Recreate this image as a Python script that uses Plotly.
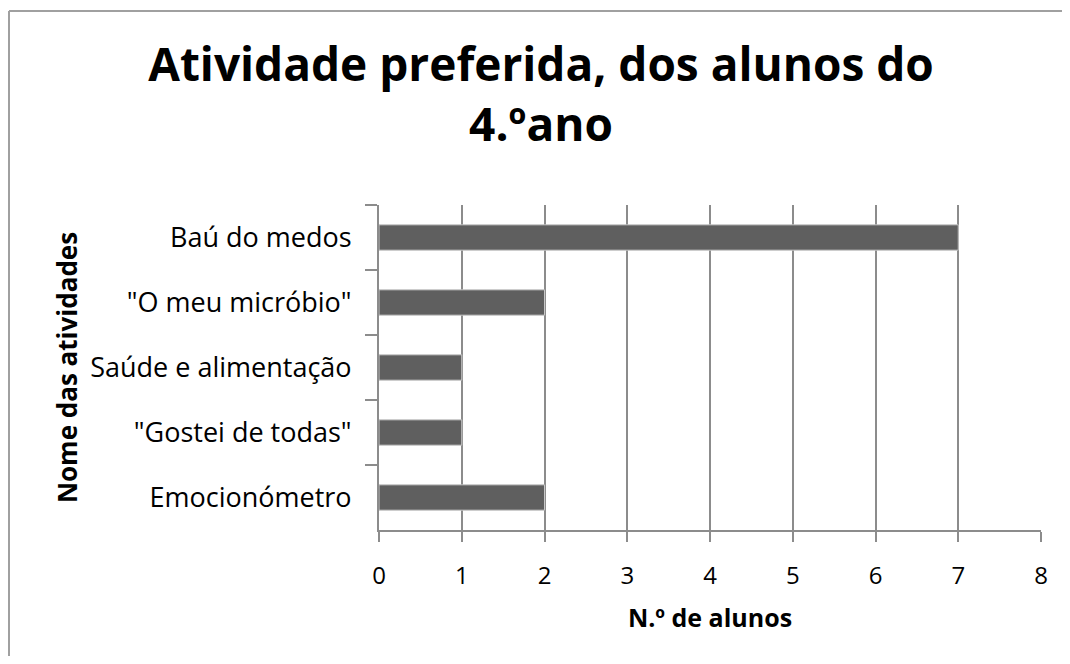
import plotly.graph_objects as go

categories = ["Baú do medos", "\"O meu micróbio\"", "Saúde e alimentação", "\"Gostei de todas\"", "Emocionómetro"]
values = [7, 2, 1, 1, 2]
x_ticks = [0, 1, 2, 3, 4, 5, 6, 7, 8]

FONT = "Open Sans"
OFF = 8  # page body margin offset
W, H = 1070 - 2 * OFF, 664 - 2 * OFF
L, T = 379 - OFF, 205 - OFF
R = W - (1041 - OFF)
B = H - (530 - OFF)
PW, PH = W - L - R, H - T - B

bx0 = (1 - L) / PW
by1 = (T + PH - 3) / PH

fig = go.Figure(go.Bar(
    y=categories, x=values, orientation="h",
    marker=dict(color="#5f5f5f", line=dict(color="#c8c8c8", width=1)),
    width=0.39,
))

fig.update_layout(
    width=W, height=H,
    margin=dict(l=L, r=R, t=T, b=B, autoexpand=False),
    paper_bgcolor="white", plot_bgcolor="white",
    showlegend=False,
    font=dict(family=FONT, color="black"),
    title=dict(text="<b>Atividade preferida, dos alunos do<br>4.ºano</b>",
               x=(541 - OFF) / W, xanchor="center", xref="container",
               y=1 - (81 - OFF) / H, yanchor="top", yref="container",
               automargin=False,
               font=dict(size=46, family=FONT, color="black")),
    shapes=[
        dict(type="line", xref="paper", yref="paper", x0=bx0, x1=bx0, y0=-0.6, y1=by1,
             line=dict(color="#a0a0a0", width=2), layer="below"),
        dict(type="line", xref="paper", yref="paper", x0=bx0, x1=1.2, y0=by1, y1=by1,
             line=dict(color="#a0a0a0", width=2), layer="below"),
    ],
)

fig.update_xaxes(
    range=[0, 8], tickvals=x_ticks, showgrid=True, gridcolor="#8c8c8c", gridwidth=2,
    showline=True, linecolor="#8c8c8c", linewidth=2,
    ticks="outside", ticklen=10, tickwidth=2, tickcolor="#8c8c8c",
    ticklabelstandoff=13, automargin=False,
    tickfont=dict(size=24, family=FONT, color="black"),
    title=dict(text="<b>N.º de alunos</b>", font=dict(size=25, family=FONT, color="black"), standoff=20),
    zeroline=False,
)
fig.update_yaxes(
    type="category", categoryorder="array", categoryarray=categories, autorange="reversed",
    tickson="boundaries", showgrid=False,
    showline=True, linecolor="#8c8c8c", linewidth=2,
    ticks="outside", ticklen=12, tickwidth=2, tickcolor="#8c8c8c",
    ticklabelstandoff=20, automargin=False,
    tickfont=dict(size=27, family=FONT, color="black"),
    title=dict(text="<b>Nome das atividades</b>", font=dict(size=26, family=FONT, color="black"), standoff=5),
)

fig.write_html("out.html")
